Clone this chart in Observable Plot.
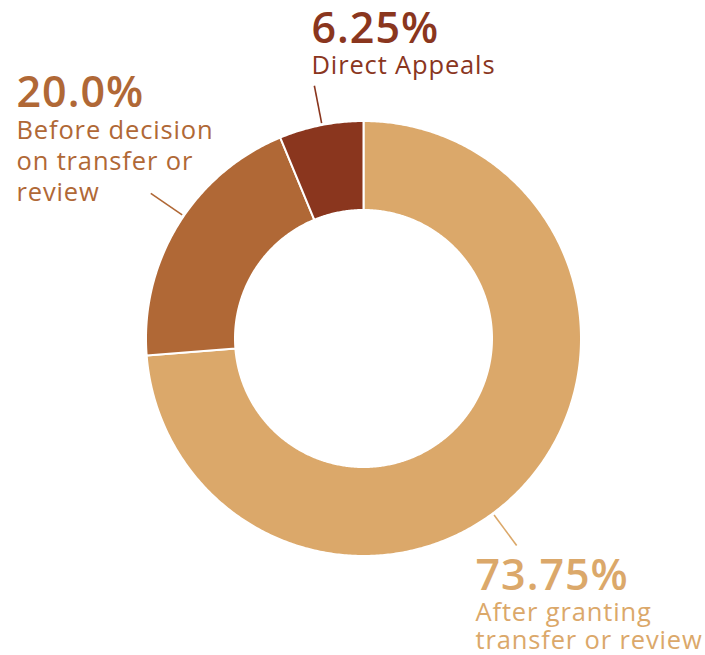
<!DOCTYPE html>
<html>
<head>
<meta charset="utf-8">
<script src="https://cdn.jsdelivr.net/npm/d3@7"></script>
<script src="https://cdn.jsdelivr.net/npm/@observablehq/plot@0.6"></script>
<style>
  html, body { margin: 0; padding: 0; background: #fff; }
  #chart svg { display: block; }
</style>
</head>
<body>
<div id="chart"></div>
<script>
// ---- Data ----
const categories = ["After granting transfer or review", "Before decision on transfer or review", "Direct Appeals"];
const values = [73.75, 20.0, 6.25];
const percentLabels = ["73.75%", "20.0%", "6.25%"];
const labelLines = [
  ["After granting", "transfer or review"],
  ["Before decision", "on transfer or", "review"],
  ["Direct Appeals"]
];
const colors = ["#DBA86A", "#B06836", "#8A361E"];

// ---- Layout (styling / placement only) ----
const W = 705, H = 655;
const CX = 363, CY = 338, R = 217.5, R0 = 128.5;
const FONT = "Open Sans, sans-serif";
const labelLayout = [
  {x: 475, pctBase: 589, lineBase: [620, 648], leaderAngle: 143.5},
  {x: 16, pctBase: 106, lineBase: [138, 169, 200], leaderAngle: 304.3},
  {x: 311, pctBase: 42, lineBase: [73], leaderAngle: 349}
];
const leaderR = [R + 2, R + 40];

// ---- Build slice polygons from values ----
const total = d3.sum(values);
const pt = (r, deg) => {
  const a = deg * Math.PI / 180;
  return [CX + r * Math.sin(a), CY - r * Math.cos(a)];
};
let acc = 0;
const slicePts = [];
values.forEach((v, i) => {
  const a0 = acc / total * 360, a1 = (acc + v) / total * 360;
  acc += v;
  const n = Math.max(2, Math.ceil((a1 - a0) / 0.5));
  const ring = [];
  for (let k = 0; k <= n; k++) ring.push(pt(R, a0 + (a1 - a0) * k / n));
  for (let k = n; k >= 0; k--) ring.push(pt(R0, a0 + (a1 - a0) * k / n));
  ring.forEach(([x, y], j) => slicePts.push({name: categories[i], x, y, j}));
});

// leaders
const leaders = categories.map((c, i) => {
  const [x1, y1] = pt(leaderR[0], labelLayout[i].leaderAngle);
  const [x2, y2] = pt(leaderR[1], labelLayout[i].leaderAngle);
  return {name: c, x1, y1, x2, y2};
});

// text rows
const pctRows = categories.map((c, i) => ({name: c, text: percentLabels[i], x: labelLayout[i].x, y: labelLayout[i].pctBase}));
const lineRows = [];
categories.forEach((c, i) => labelLines[i].forEach((t, k) =>
  lineRows.push({name: c, text: t, x: labelLayout[i].x, y: labelLayout[i].lineBase[k]})));

const chart = Plot.plot({
  width: W,
  height: H,
  margin: 0,
  style: {fontFamily: FONT, background: "#fff"},
  x: {domain: [0, W], range: [0, W], axis: null},
  y: {domain: [0, H], range: [0, H], axis: null},
  color: {domain: categories, range: colors},
  marks: [
    Plot.line(slicePts, {x: "x", y: "y", z: "name", fill: "name", stroke: "white", strokeWidth: 2, curve: "linear-closed", strokeLinejoin: "round"}),
    Plot.link(leaders, {x1: "x1", y1: "y1", x2: "x2", y2: "y2", stroke: "name", strokeWidth: 1.6}),
    Plot.text(pctRows, {x: "x", y: "y", text: "text", fill: "name", fontSize: 43, fontWeight: 600, textAnchor: "start", lineAnchor: "bottom", lineHeight: 0.8}),
    Plot.text(lineRows, {x: "x", y: "y", text: "text", fill: "name", fontSize: 25.5, fontWeight: 400, textAnchor: "start", lineAnchor: "bottom", lineHeight: 0.9})
  ]
});
const textGroups = chart.querySelectorAll('g[aria-label="text"]');
if (textGroups[0]) textGroups[0].setAttribute("letter-spacing", "1");
if (textGroups[1]) textGroups[1].setAttribute("letter-spacing", "0.85");
document.getElementById("chart").appendChild(chart);
</script>
</body>
</html>
